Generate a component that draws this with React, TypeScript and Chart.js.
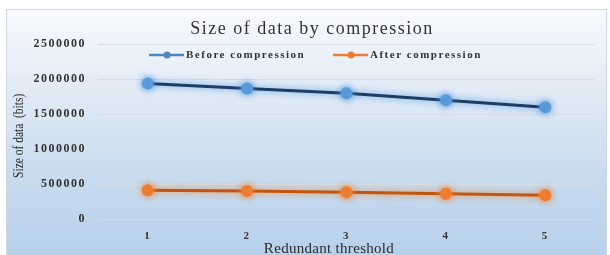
import React, { useEffect, useRef } from "react";
import { Chart, registerables } from "chart.js";

Chart.register(...registerables);

const categories = ["1", "2", "3", "4", "5"];
const beforeValues = [1940000, 1870000, 1800000, 1700000, 1600000];
const afterValues = [415000, 405000, 385000, 365000, 345000];
const seriesNames = ["Before compression", "After compression"];
const chartTitle = "Size of data by compression";
const xTitle = "Redundant threshold";
const yTitle = "Size of data  (bits)";

const SERIF = "'Liberation Serif', 'Times New Roman', serif";

const glowPlugin = {
  id: "glow",
  beforeDatasetDraw(chart: any, args: any) {
    const ds = chart.data.datasets[args.index];
    const ctx = chart.ctx;
    ctx.save();
    ctx.shadowColor = ds.glowColor;
    ctx.shadowBlur = 7;
    ctx.shadowOffsetX = 0;
    ctx.shadowOffsetY = 0;
  },
  afterDatasetDraw(chart: any) {
    chart.ctx.restore();
  },
};

const spacingPlugin = {
  id: "spacing",
  beforeLayout(chart: any) {
    (chart.ctx as any).letterSpacing = "1.5px";
  },
  beforeDraw(chart: any) {
    (chart.ctx as any).letterSpacing = "1.5px";
  },
};

const textPlugin = {
  id: "texts",
  afterDraw(chart: any) {
    const ctx = chart.ctx;
    const area = chart.chartArea;
    // title
    ctx.save();
    (ctx as any).letterSpacing = "1.5px";
    ctx.font = `18px ${SERIF}`;
    ctx.fillStyle = "#333333";
    ctx.textAlign = "center";
    ctx.textBaseline = "middle";
    ctx.fillText(chartTitle, 305, 19);
    ctx.restore();

    // legend
    const legendItems = [
      { x: 142, ds: chart.data.datasets[0] },
      { x: 326, ds: chart.data.datasets[1] },
    ];
    legendItems.forEach((it) => {
      ctx.save();
      ctx.strokeStyle = it.ds.legendColor;
      ctx.lineWidth = 2.5;
      ctx.beginPath();
      ctx.moveTo(it.x, 45);
      ctx.lineTo(it.x + 35, 45);
      ctx.stroke();
      ctx.fillStyle = it.ds.legendColor;
      ctx.beginPath();
      ctx.arc(it.x + 18, 45, 3.5, 0, Math.PI * 2);
      ctx.fill();
      (ctx as any).letterSpacing = "1.5px";
      ctx.font = `bold 11px ${SERIF}`;
      ctx.fillStyle = "#333333";
      ctx.textAlign = "left";
      ctx.textBaseline = "middle";
      ctx.fillText(it.ds.label, it.x + 37, 45.5);
      ctx.restore();
    });

    // x title
    ctx.save();
    (ctx as any).letterSpacing = "0.3px";
    ctx.font = `15px ${SERIF}`;
    ctx.fillStyle = "#2a2a2a";
    ctx.textAlign = "center";
    ctx.textBaseline = "middle";
    ctx.fillText(xTitle, 322, 239);
    ctx.restore();

    // y title
    ctx.save();
    (ctx as any).letterSpacing = "0px";
    ctx.translate(12, (area.top + area.bottom) / 2 + 4);
    ctx.rotate(-Math.PI / 2);
    ctx.scale(0.82, 1);
    ctx.font = `14px ${SERIF}`;
    ctx.fillStyle = "#2a2a2a";
    ctx.textAlign = "center";
    ctx.textBaseline = "middle";
    ctx.fillText(yTitle, 0, 0);
    ctx.restore();
  },
};

export default function App() {
  const ref = useRef<HTMLCanvasElement | null>(null);

  useEffect(() => {
    if (!ref.current) return;
    const chart = new Chart(ref.current, {
      type: "line",
      data: {
        labels: categories,
        datasets: [
          {
            label: seriesNames[0],
            data: beforeValues,
            borderColor: "#1b3d66",
            backgroundColor: "#5b9bd5",
            pointBackgroundColor: "#5b9bd5",
            pointBorderColor: "#5b9bd5",
            borderWidth: 3,
            pointRadius: 4.5,
            pointHoverRadius: 4.5,
            tension: 0,
            glowColor: "rgba(80,150,225,0.95)",
            legendColor: "#4f87c2",
          } as any,
          {
            label: seriesNames[1],
            data: afterValues,
            borderColor: "#c0560f",
            backgroundColor: "#ed7d31",
            pointBackgroundColor: "#ed7d31",
            pointBorderColor: "#ed7d31",
            borderWidth: 3,
            pointRadius: 4.5,
            pointHoverRadius: 4.5,
            tension: 0,
            glowColor: "rgba(240,130,50,0.95)",
            legendColor: "#ed7d31",
          } as any,
        ],
      },
      options: {
        animation: false,
        responsive: true,
        maintainAspectRatio: false,
        layout: { padding: { top: 34.3, right: 11, bottom: 0, left: 0 } },
        plugins: {
          legend: { display: false },
          title: { display: false },
          tooltip: { enabled: false },
        },
        scales: {
          x: {
            offset: true,
            grid: { display: false, drawTicks: false },
            border: { display: true, color: "#d6dde6", width: 1 },
            ticks: {
              padding: 10,
              color: "#333333",
              font: { family: SERIF, size: 11, weight: "bold" },
            },
            afterFit(scale: any) {
              scale.height = 36.7;
            },
          },
          y: {
            min: 0,
            max: 2500000,
            grid: { color: "#d6dde6", lineWidth: 1, drawTicks: false },
            border: { display: false },
            ticks: {
              stepSize: 500000,
              padding: 12,
              color: "#333333",
              font: { family: SERIF, size: 12, weight: "bold" },
              callback: (v: any) => String(v),
            },
            afterFit(scale: any) {
              scale.width = 91;
            },
          },
        },
      },
      plugins: [spacingPlugin, glowPlugin, textPlugin],
    });
    return () => chart.destroy();
  }, []);

  return (
    <div
      style={{
        position: "absolute",
        left: 6,
        top: 9,
        width: 601,
        height: 252,
        boxSizing: "border-box",
        border: "1px solid #cfd8e2",
        background:
          "linear-gradient(to bottom, #f8fafd 0%, #e6eef7 25%, #c9dcef 65%, #b6d0ea 100%)",
        overflow: "hidden",
      }}
    >
      <div style={{ position: "relative", width: 599, height: 246 }}>
        <canvas ref={ref} />
      </div>
    </div>
  );
}
